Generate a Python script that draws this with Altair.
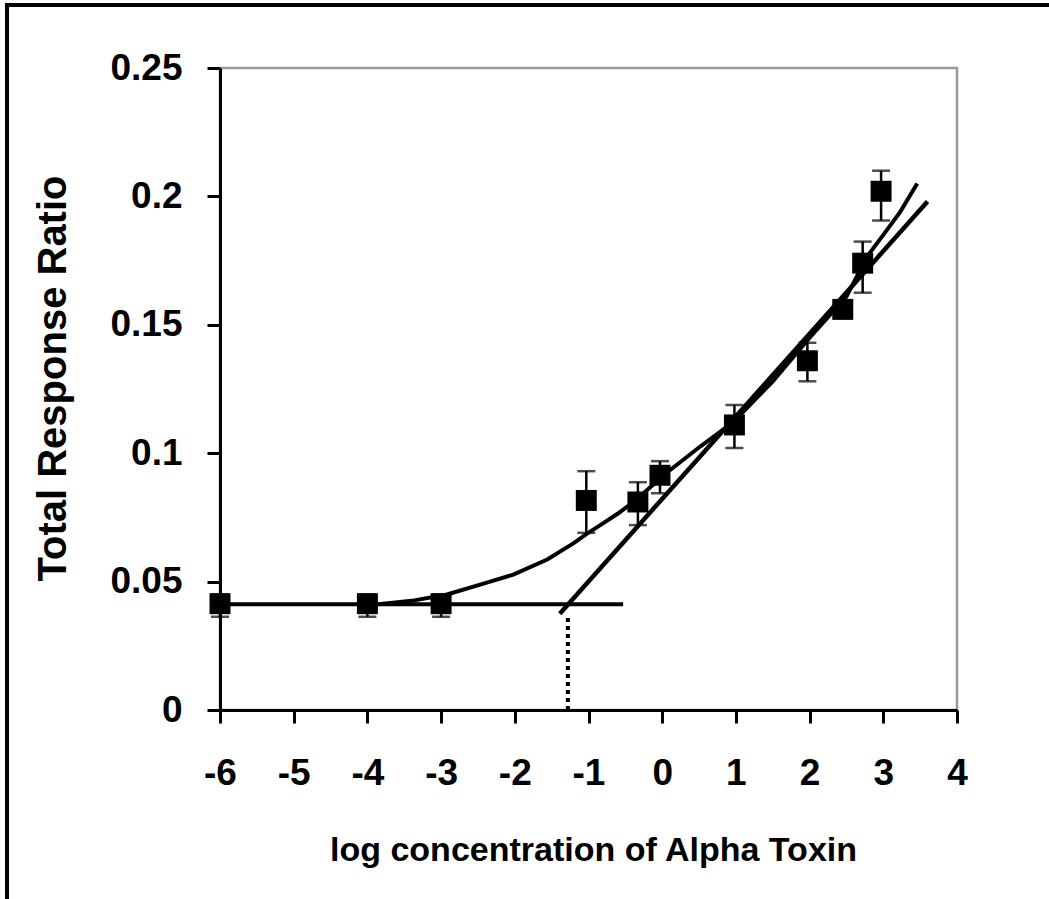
import altair as alt
import pandas as pd

# ---- data ----
pt_x = [-6, -4, -3, -1.03, -0.33, -0.03, 0.98, 1.97, 2.45, 2.72, 2.97]
pt_y = [0.0414, 0.0414, 0.0414, 0.0816, 0.081, 0.0914, 0.111, 0.136, 0.156, 0.174, 0.202]
err_lo = [0.0363, 0.0363, 0.0363, 0.069, 0.072, 0.0844, 0.102, 0.128, 0.154, 0.1625, 0.1906]
err_hi = [0.045, 0.045, 0.045, 0.093, 0.0887, 0.0969, 0.1188, 0.143, 0.158, 0.1824, 0.210]

curve_x = [-3.85, -3.4, -2.92, -2.47, -2.02, -1.56, -1.2, -1.02, -0.84, -0.6, -0.39, 0.07,
           0.52, 0.96, 1.5, 2.0, 2.5, 2.78, 3.0, 3.23, 3.46]
curve_y = [0.0412, 0.0425, 0.045, 0.0488, 0.0527, 0.0586, 0.065, 0.0687, 0.072, 0.0765,
           0.081, 0.0926, 0.1027, 0.112, 0.128, 0.145, 0.161, 0.1766, 0.185, 0.194, 0.205]

base_x = [-6, -0.53]
base_y = [0.0412, 0.0412]

lin_x = [-1.39, 3.6]
lin_y = [0.0375, 0.198]

drop_x = [-1.28, -1.28]
drop_y = [0.0, 0.037]

x_ticks = [-6, -5, -4, -3, -2, -1, 0, 1, 2, 3, 4]
y_ticks = [0, 0.05, 0.1, 0.15, 0.2, 0.25]

pts = pd.DataFrame({"x": pt_x, "y": pt_y, "lo": err_lo, "hi": err_hi})
curve = pd.DataFrame({"x": curve_x, "y": curve_y, "o": list(range(len(curve_x)))})
base = pd.DataFrame({"x": base_x, "y": base_y})
lin = pd.DataFrame({"x": lin_x, "y": lin_y})
drop = pd.DataFrame({"x": drop_x, "y": drop_y})

FONT = "Liberation Sans"

xs = alt.Scale(domain=[-6, 4], nice=False, zero=False)
ys = alt.Scale(domain=[0, 0.25], nice=False, zero=False)

xaxis = alt.Axis(values=x_ticks, labelExpr="'' + datum.value", title="log concentration of Alpha Toxin",
                 labelFontSize=37, labelPadding=32, labelFlush=False, titleFontSize=34,
                 titleX=373, titleY=140, titleAlign="center", titleBaseline="middle")
yaxis = alt.Axis(values=y_ticks, format=".2~f", title="Total Response Ratio",
                 labelFontSize=37, labelPadding=25, labelFlush=False, titleFontSize=40,
                 titleX=-167, titleY=310, titleAlign="center", titleBaseline="middle",
                 titleAngle=270)

X = alt.X("x:Q", scale=xs, axis=xaxis)
Y = alt.Y("y:Q", scale=ys, axis=yaxis)

base_layer = alt.Chart(base).mark_line(color="black", strokeWidth=4).encode(x=X, y=Y)
lin_layer = alt.Chart(lin).mark_line(color="black", strokeWidth=4.5).encode(x="x:Q", y="y:Q")
curve_layer = alt.Chart(curve).mark_line(color="black", strokeWidth=4).encode(
    x="x:Q", y="y:Q", order="o:Q")
drop_layer = alt.Chart(drop).mark_line(color="black", strokeWidth=4, strokeDash=[4, 4]).encode(
    x="x:Q", y="y:Q")

err_rule = alt.Chart(pts).mark_rule(color="black", strokeWidth=2.5).encode(
    x="x:Q", y="lo:Q", y2="hi:Q")
cap_lo = alt.Chart(pts).mark_tick(color="black", orient="horizontal", size=18, thickness=2.5).encode(
    x="x:Q", y="lo:Q")
cap_hi = alt.Chart(pts).mark_tick(color="black", orient="horizontal", size=18, thickness=2.5).encode(
    x="x:Q", y="hi:Q")
markers = alt.Chart(pts).mark_point(shape="square", filled=True, color="black", size=440, opacity=1).encode(
    x="x:Q", y="y:Q")

frame_top = alt.Chart(base).mark_rule(color="black", strokeWidth=4).encode(
    x=alt.value(-215), x2=alt.value(835), y=alt.value(-63))
frame_left = alt.Chart(base).mark_rule(color="black", strokeWidth=4).encode(
    x=alt.value(-213), y=alt.value(-65), y2=alt.value(835))

chart = alt.layer(
    base_layer, lin_layer, curve_layer, drop_layer,
    err_rule, cap_lo, cap_hi, markers, frame_top, frame_left
).properties(
    width=737, height=642,
    padding={"left": 220, "top": 68, "right": 92, "bottom": 189},
    autosize=alt.AutoSizeParams(type="none"),
    background="white",
).configure_view(
    stroke="#999999", strokeWidth=2.5
).configure_axis(
    grid=False, domainColor="black", domainWidth=3, tickColor="black", tickWidth=3,
    tickSize=13, labelFont=FONT, labelFontWeight="bold", labelColor="black",
    titleFont=FONT, titleFontWeight="bold", titleColor="black", labelOverlap=False
)

chart.save("out.html", embed_options={"renderer": "svg", "actions": False})
